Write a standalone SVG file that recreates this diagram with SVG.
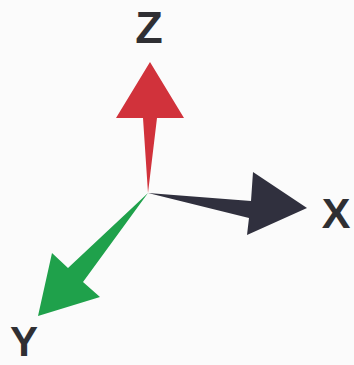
<svg xmlns="http://www.w3.org/2000/svg" width="354" height="365" viewBox="0 0 354 365">
  <style>
    .lbl { font-family: "Liberation Sans", Arial, sans-serif; font-weight: bold; fill: #2f2f33; text-anchor: middle; }
    .z { fill: #d1323b; }
    .x { fill: #30303e; }
    .y { fill: #1fa14b; }
  </style>
  <rect width="354" height="365" fill="#fbfbfb"/>
  <g id="connectors">
    <g id="axis-z">
      <polygon class="z" points="148,193 143,118 116,118 150,62 184,118 157,118"/>
    </g>
    <g id="axis-x">
      <polygon class="x" points="148,193 251,201 253,172 307,208 247,235 249,218"/>
    </g>
    <g id="axis-y">
      <polygon class="y" points="148,193 68,268 52,253 38,316 100,297 83,282"/>
    </g>
  </g>
  <g id="label-z"><text class="lbl" x="149" y="43" font-size="45">Z</text></g>
  <g id="label-x"><text class="lbl" x="336" y="228" font-size="43">X</text></g>
  <g id="label-y"><text class="lbl" x="24" y="356" font-size="42">Y</text></g>
</svg>
